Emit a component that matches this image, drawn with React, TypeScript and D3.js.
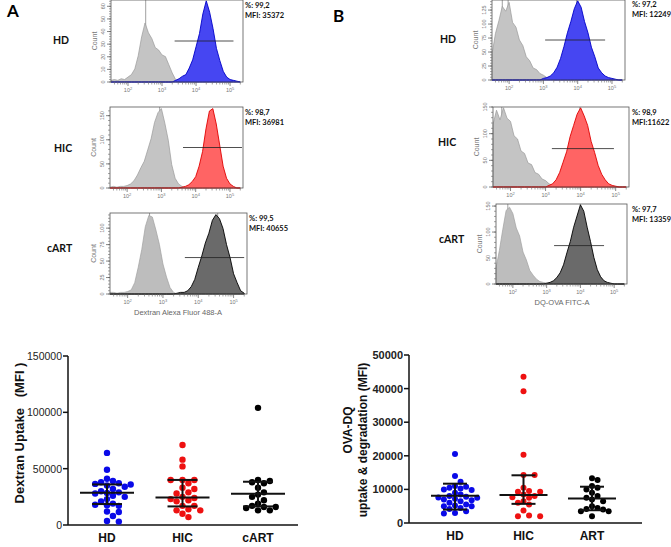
import React from 'react';
import * as d3 from 'd3';

// ---------- Flow histograms (relative height per log10 bin) ----------
const histBins = [1.5,1.6,1.7,1.8,1.9,2.0,2.1,2.2,2.3,2.4,2.5,2.6,2.7,2.8,2.9,3.0,3.1,3.2,3.3,3.4,3.5,3.6,3.7,3.8,3.9,4.0,4.1,4.2,4.3,4.4,4.5,4.6,4.7,4.8,4.9,5.0,5.1,5.2,5.3];

const aHdControl = [2,3,2,4,3,6,9,16,32,55,72,60,53,42,39,33,31,21,11,3,0,0,0,0,0,0,0,0,0,0,0,0,0,0,0,0,0,0,0];
const aHdStained = [0,0,0,0,0,0,0,0,0,0,0,0,0,0,0,0,0,0,0,2,4,7,9,17,27,43,59,83,99,85,65,41,26,13,6,3,2,1,0];
const aHicControl = [1,2,1,2,2,3,5,9,16,25,33,47,61,81,93,98,80,59,29,12,5,2,0,0,0,0,0,0,0,0,0,0,0,0,0,0,0,0,0];
const aHicStained = [0,0,0,0,0,0,0,0,0,0,0,0,0,0,0,0,0,0,0,0,0,1,2,4,8,14,27,45,73,95,98,79,53,27,12,5,2,0,0];
const aCartControl = [2,2,1,2,2,3,5,14,33,55,83,97,95,79,61,37,21,8,2,0,0,0,0,0,0,0,0,0,0,0,0,0,0,0,0,0,0,0,0];
const aCartStained = [0,0,0,0,0,0,0,0,0,0,0,0,0,0,0,0,0,0,0,1,2,2,4,9,18,33,47,63,75,91,98,93,81,61,45,25,14,4,1];

const bHdControl = [32,58,74,92,86,97,72,66,50,43,29,24,15,13,8,6,3,2,0,0,0,0,0,0,0,0,0,0,0,0,0,0,0,0,0,0,0,0,0];
const bHdStained = [0,0,0,0,0,0,0,0,0,0,0,0,0,0,0,2,3,5,9,16,27,42,59,73,89,99,91,73,59,41,29,15,9,5,3,2,1,0,0];
const bHicControl = [78,96,84,99,86,82,64,60,45,42,30,28,18,16,10,8,4,2,0,0,0,0,0,0,0,0,0,0,0,0,0,0,0,0,0,0,0,0,0];
const bHicStained = [0,0,0,0,0,0,0,0,0,0,0,0,0,0,0,0,2,4,9,18,31,44,63,77,91,99,89,77,57,43,27,16,9,4,2,1,0,0,0];
const bCartControl = [20,42,68,92,96,88,70,60,40,30,17,11,6,3,2,1,0,0,0,0,0,0,0,0,0,0,0,0,0,0,0,0,0,0,0,0,0,0,0];
const bCartStained = [0,0,0,0,0,0,0,0,0,0,0,0,0,0,0,1,2,4,8,14,24,39,53,71,85,99,91,71,53,33,18,9,4,2,1,0,0,0,0];

const decades = [2, 3, 4, 5];

// ---------- Scatter data ----------
const dextranCats = ['HD', 'HIC', 'cART'];
const dextranHD = [64000,49000,41000,39000,38000,37000,36500,36000,35000,34000,32000,30000,29000,28500,28000,26000,25000,23000,21000,19000,18000,17500,17000,12000,11500,8000,3500,3000];
const dextranHIC = [71000,58000,52000,40000,40000,40000,37000,33000,32000,29000,28000,25000,24000,23000,22000,21000,17000,17000,14000,13000,13000,10000,7000];
const dextranCART = [104000,40000,39000,38000,37000,33000,29000,27000,25000,22000,19000,17000,16000,16000,15000,13000,13000];
const dextranMedian = [28600, 24500, 27700];
const dextranQ1 = [18600, 16500, 16500];
const dextranQ3 = [36000, 40000, 38400];
const dextranTicks = [0, 50000, 100000, 150000];

const ovaCats = ['HD', 'HIC', 'ART'];
const ovaHD = [20500,14000,12300,11000,10800,10500,10300,10000,9800,9000,8500,8000,7800,7600,7500,7200,7000,6800,6500,6000,5500,5200,5000,5000,4500,4200,3500,3000,2800];
const ovaHIC = [43500,39200,20300,14300,14300,10500,9500,9300,9300,8500,8000,7700,7500,6500,6000,5500,3700,2200,2000,2000];
const ovaART = [13300,12800,11000,10500,10000,9000,8000,7500,7000,6500,5000,4500,4200,4000,3500,3500,2000];
const ovaMedian = [8100, 8300, 7300];
const ovaQ1 = [4000, 5700, 3800];
const ovaQ3 = [11700, 14200, 10800];
const ovaTicks = [0, 10000, 20000, 30000, 40000, 50000];

const groupColors = ['#0a0ae8', '#ee1111', '#000000'];

const LBL = 'Lato, "Open Sans", sans-serif';
const ARIAL = '"Liberation Sans", Arial, sans-serif';

type HistProps = {
  x0: number; y0: number; x1: number; y1: number;
  control: number[]; stained: number[];
  ctrlFill: string; ctrlStroke: string; stFill: string; stStroke: string;
  yMax: number; yTicks: number[];
  gateY: number; gate: [number, number];
  markers: number[];
  label: string; labelX: number; labelY: number;
  stats: string[]; statsX: number; statsY: number;
  xTitle?: string; xTitleX?: number; xTitleY?: number;
};

function Histo(p: HistProps) {
  const xs = d3.scaleLinear().domain([1.5, 5.38]).range([p.x0, p.x1]);
  const ys = d3.scaleLinear().domain([0, 100]).range([p.y1, p.y0]);
  const yt = d3.scaleLinear().domain([0, p.yMax]).range([p.y1, p.y0]);
  const area = d3.area<number>()
    .x((_, i) => xs(histBins[i]))
    .y0(p.y1)
    .y1((d) => ys(d))
    .curve(d3.curveLinear);
  const minor: number[] = [];
  [1, 2, 3, 4, 5].forEach((d) => {
    for (let k = 2; k <= 9; k++) {
      const v = d + Math.log10(k);
      if (v > 1.5 && v < 5.38) minor.push(v);
    }
  });
  const yStep = p.yTicks[1] - p.yTicks[0];
  const yMinor: number[] = [];
  for (let v = 0; v <= p.yMax; v += yStep / 5) yMinor.push(v);
  const cy = (p.y0 + p.y1) / 2;
  return (
    <g>
      {p.markers.map((m, i) => (
        <line key={'m' + i} x1={xs(m)} x2={xs(m)} y1={p.y0} y2={p.y1} stroke="#888" strokeWidth={0.8} />
      ))}
      <path d={area(p.control) || ''} fill={p.ctrlFill} stroke={p.ctrlStroke} strokeWidth={0.7} />
      <path d={area(p.stained) || ''} fill={p.stFill} stroke={p.stStroke} strokeWidth={0.9} />
      <rect x={p.x0} y={p.y0} width={p.x1 - p.x0} height={p.y1 - p.y0} fill="none" stroke="#555" strokeWidth={0.8} />
      <line x1={xs(p.gate[0])} x2={xs(p.gate[1])} y1={ys(p.gateY)} y2={ys(p.gateY)} stroke="#222" strokeWidth={0.8} />
      {yMinor.map((v, i) => (
        <line key={'ym' + i} x1={p.x0 - 2} x2={p.x0} y1={yt(v)} y2={yt(v)} stroke="#666" strokeWidth={0.6} />
      ))}
      {p.yTicks.map((v) => (
        <g key={'yt' + v}>
          <line x1={p.x0 - 4} x2={p.x0} y1={yt(v)} y2={yt(v)} stroke="#555" strokeWidth={0.7} />
          <text transform={`translate(${p.x0 - 6},${yt(v)}) rotate(-90)`} textAnchor="middle" fontSize={5.5} fill="#777" fontFamily={ARIAL}>{v}</text>
        </g>
      ))}
      <text transform={`translate(${p.x0 - 14},${cy}) rotate(-90)`} textAnchor="middle" fontSize={7} fill="#777" fontFamily={ARIAL}>Count</text>
      {minor.map((v, i) => (
        <line key={'xm' + i} x1={xs(v)} x2={xs(v)} y1={p.y1} y2={p.y1 + 2.5} stroke="#666" strokeWidth={0.6} />
      ))}
      {decades.map((d) => (
        <g key={'xd' + d}>
          <line x1={xs(d)} x2={xs(d)} y1={p.y1} y2={p.y1 + 4} stroke="#555" strokeWidth={0.7} />
          <text x={xs(d)} y={p.y1 + 10} textAnchor="middle" fontSize={5.5} fill="#777" fontFamily={ARIAL}>
            10<tspan dy={-2.5} fontSize={4}>{d}</tspan>
          </text>
        </g>
      ))}
      <text x={p.labelX} y={p.labelY} fontSize={10.5} fontWeight="bold" fontFamily={LBL} fill="#111">{p.label}</text>
      {p.stats.map((s, i) => (
        <text key={'s' + i} x={p.statsX} y={p.statsY + i * 10} fontSize={7.5} fontWeight="bold" fontFamily={LBL} fill="#111">{s}</text>
      ))}
      {p.xTitle && (
        <text x={p.xTitleX} y={p.xTitleY} textAnchor="middle" fontSize={7.5} fill="#666" fontFamily={ARIAL}>{p.xTitle}</text>
      )}
    </g>
  );
}

function swarm(values: number[], yScale: (v: number) => number, cx: number, r: number) {
  const placed: { x: number; y: number }[] = [];
  const sorted = [...values].sort((a, b) => b - a);
  const step = r * 1.85;
  for (const v of sorted) {
    const y = yScale(v);
    let x = cx;
    for (let i = 0; i < 60; i++) {
      const n = Math.ceil(i / 2);
      const off = i === 0 ? 0 : (i % 2 === 1 ? n : -n) * step;
      const cand = cx + off;
      if (placed.every((q) => (q.x - cand) ** 2 + (q.y - y) ** 2 >= (2 * r) ** 2 * 0.92)) {
        x = cand;
        break;
      }
    }
    placed.push({ x, y });
  }
  return placed;
}

type ScatterProps = {
  x0: number; x1: number; yTop: number; yBottom: number; max: number;
  ticks: number[]; cats: string[]; catRange: [number, number];
  groups: number[][]; medians: number[]; q1: number[]; q3: number[];
  medHalf: number; capHalf: number; boldTicks: boolean; r: number; tickSize: number;
  titles: { text: string; x: number; y: number; size: number }[];
};

function Scatter(p: ScatterProps) {
  const y = d3.scaleLinear().domain([0, p.max]).range([p.yBottom, p.yTop]);
  const x = d3.scalePoint<string>().domain(p.cats).range(p.catRange);
  return (
    <g fontFamily={ARIAL}>
      <line x1={p.x0} x2={p.x0} y1={p.yTop} y2={p.yBottom} stroke="#111" strokeWidth={1.5} />
      <line x1={p.x0} x2={p.x1} y1={p.yBottom} y2={p.yBottom} stroke="#111" strokeWidth={1.5} />
      {p.ticks.map((t) => (
        <g key={t}>
          <line x1={p.x0 - 5} x2={p.x0} y1={y(t)} y2={y(t)} stroke="#111" strokeWidth={1.5} />
          <text x={p.x0 - 6} y={y(t) + 4} textAnchor="end" fontSize={p.tickSize} fontWeight={p.boldTicks ? 'bold' : 'normal'} fill="#222">{t}</text>
        </g>
      ))}
      {p.cats.map((c, gi) => {
        const cx = x(c) as number;
        const pts = swarm(p.groups[gi], y, cx, p.r);
        return (
          <g key={c}>
            {pts.map((pt, i) => (
              <circle key={i} cx={pt.x} cy={pt.y} r={p.r} fill={groupColors[gi]} />
            ))}
            <line x1={cx} x2={cx} y1={y(p.q1[gi])} y2={y(p.q3[gi])} stroke="#111" strokeWidth={2} />
            <line x1={cx - p.capHalf} x2={cx + p.capHalf} y1={y(p.q1[gi])} y2={y(p.q1[gi])} stroke="#111" strokeWidth={2} />
            <line x1={cx - p.capHalf} x2={cx + p.capHalf} y1={y(p.q3[gi])} y2={y(p.q3[gi])} stroke="#111" strokeWidth={2} />
            <line x1={cx - p.medHalf} x2={cx + p.medHalf} y1={y(p.medians[gi])} y2={y(p.medians[gi])} stroke="#111" strokeWidth={2} />
            <text x={cx} y={p.yBottom + 17} textAnchor="middle" fontSize={12} fontWeight="bold" fill="#111">{c}</text>
          </g>
        );
      })}
      {p.titles.map((t, i) => (
        <text key={i} transform={`translate(${t.x},${t.y}) rotate(-90)`} textAnchor="middle" fontSize={t.size} fontWeight="bold" fill="#111" style={{ whiteSpace: 'pre' }}>{t.text}</text>
      ))}
    </g>
  );
}

export default function App() {
  const grayFill = '#c4c4c4';
  const grayStroke = '#9a9a9a';
  return (
    <svg width={671} height={547} style={{ position: 'absolute', left: 0, top: 0, background: '#fff' }}>
      <rect width={671} height={547} fill="#fff" />
      <text x={7} y={17} fontSize={17} fontWeight="bold" fontFamily={LBL}>A</text>
      <text x={333} y={22} fontSize={17} fontWeight="bold" fontFamily={LBL}>B</text>

      <Histo x0={111} y0={0} x1={243} y1={82} control={aHdControl} stained={aHdStained}
        ctrlFill={grayFill} ctrlStroke={grayStroke} stFill="#4646f2" stStroke="#0000c8"
        yMax={65} yTicks={[0, 10, 20, 30, 40, 50, 60]} gateY={50} gate={[3.37, 5.1]} markers={[2.52]}
        label="HD" labelX={53} labelY={44} stats={['%: 99,2', 'MFI: 35372']} statsX={245} statsY={8} />
      <Histo x0={110} y0={107} x1={243} y1={188} control={aHicControl} stained={aHicStained}
        ctrlFill={grayFill} ctrlStroke={grayStroke} stFill="#ff6464" stStroke="#e00000"
        yMax={168} yTicks={[0, 50, 100, 150]} gateY={50} gate={[3.63, 5.35]} markers={[2.95]}
        label="HIC" labelX={54} labelY={152} stats={['%: 98,7', 'MFI: 36981']} statsX={245} statsY={115} />
      <Histo x0={110} y0={213} x1={247} y1={294} control={aCartControl} stained={aCartStained}
        ctrlFill="#bdbdbd" ctrlStroke="#a0a0a0" stFill="#6a6a6a" stStroke="#000"
        yMax={123} yTicks={[0, 25, 50, 75, 100]} gateY={45} gate={[3.62, 5.3]} markers={[2.62, 4.55]}
        label="cART" labelX={47} labelY={252} stats={['%: 99,5', 'MFI: 40655']} statsX={249} statsY={221}
        xTitle="Dextran Alexa Fluor 488-A" xTitleX={178} xTitleY={315} />

      <Histo x0={492} y0={0} x1={625} y1={80} control={bHdControl} stained={bHdStained}
        ctrlFill={grayFill} ctrlStroke={grayStroke} stFill="#4646f2" stStroke="#0000c8"
        yMax={143} yTicks={[0, 25, 50, 75, 100, 125]} gateY={50} gate={[3.05, 4.8]} markers={[1.8, 1.97, 3.97]}
        label="HD" labelX={440} labelY={43} stats={['%: 97,2', 'MFI: 12249']} statsX={632} statsY={7} />
      <Histo x0={493} y0={107} x1={629} y1={187} control={bHicControl} stained={bHicStained}
        ctrlFill={grayFill} ctrlStroke={grayStroke} stFill="#ff6464" stStroke="#e00000"
        yMax={150} yTicks={[0, 50, 100, 150]} gateY={48} gate={[3.18, 4.95]} markers={[1.75, 3.98]}
        label="HIC" labelX={438} labelY={146} stats={['%: 98,9', 'MFI:11622']} statsX={632} statsY={115} />
      <Histo x0={496} y0={204} x1={627} y1={284} control={bCartControl} stained={bCartStained}
        ctrlFill="#bdbdbd" ctrlStroke="#a0a0a0" stFill="#6a6a6a" stStroke="#000"
        yMax={154} yTicks={[0, 50, 100, 150]} gateY={48} gate={[3.22, 4.7]} markers={[1.85, 4.0]}
        label="cART" labelX={439} labelY={243} stats={['%: 97,7', 'MFI: 13359']} statsX={632} statsY={212}
        xTitle="DQ-OVA FITC-A" xTitleX={562} xTitleY={305} />

      <Scatter x0={68} x1={298} yTop={356} yBottom={525} max={150000} ticks={dextranTicks}
        cats={dextranCats} catRange={[107, 258]} groups={[dextranHD, dextranHIC, dextranCART]}
        medians={dextranMedian} q1={dextranQ1} q3={dextranQ3} medHalf={27} capHalf={15} boldTicks={false} r={3.2} tickSize={10.5}
        titles={[{ text: 'Dextran Uptake   (MFI )', x: 24, y: 433, size: 13 }]} />
      <Scatter x0={409} x1={642} yTop={355} yBottom={523} max={50000} ticks={ovaTicks}
        cats={ovaCats} catRange={[455, 592]} groups={[ovaHD, ovaHIC, ovaART]}
        medians={ovaMedian} q1={ovaQ1} q3={ovaQ3} medHalf={24} capHalf={12} boldTicks={true} r={3} tickSize={11}
        titles={[{ text: 'OVA-DQ', x: 352, y: 430, size: 12 }, { text: 'uptake & degradation (MFI)', x: 367, y: 440, size: 12 }]} />
    </svg>
  );
}
